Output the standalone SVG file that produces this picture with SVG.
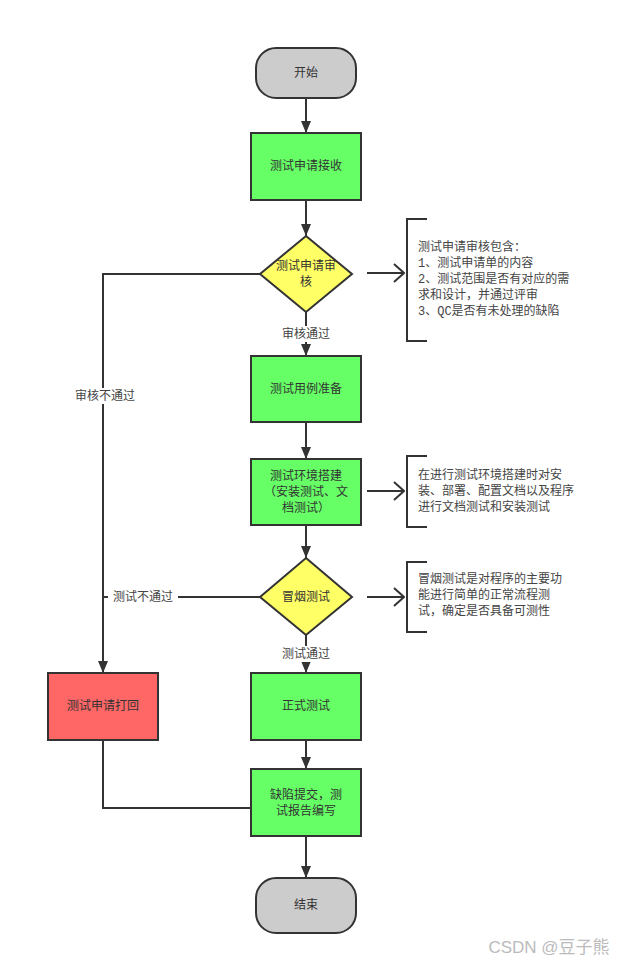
<svg xmlns="http://www.w3.org/2000/svg" width="631" height="965" viewBox="0 0 631 965">
<style>
.n{stroke:#333;stroke-width:2}
.g{fill:#66FF66}
.y{fill:#FFFF66}
.r{fill:#FF6666}
.t{fill:#CCCCCC}
text{font-family:"Liberation Sans","Noto Sans CJK SC",sans-serif;font-size:12px;fill:#333;text-anchor:middle;dominant-baseline:central}
.note{text-anchor:start;font-family:"Liberation Mono","Noto Sans CJK SC",monospace;fill:#444}
.lbl{fill:#444}
.c{fill:none;stroke:#333;stroke-width:2}
</style>
<defs>
<marker id="ah" viewBox="0 0 12 10" refX="12" refY="5" markerWidth="6" markerHeight="5" orient="auto" markerUnits="strokeWidth">
<path d="M0,0 L12,5 L0,10 Z" fill="#333"/>
</marker>
<marker id="oa" viewBox="0 0 12 20" refX="11" refY="10" markerWidth="6" markerHeight="10" orient="auto" markerUnits="strokeWidth">
<path d="M1,1 L11,10 L1,19" fill="none" stroke="#333" stroke-width="2"/>
</marker>
</defs>
<rect width="631" height="965" fill="#fff"/>
<g id="connectors">
<line class="c" x1="306" y1="98" x2="306" y2="133" marker-end="url(#ah)"/>
<line class="c" x1="306" y1="200" x2="306" y2="236" marker-end="url(#ah)"/>
<line class="c" x1="306" y1="312" x2="306" y2="356" marker-end="url(#ah)"/>
<line class="c" x1="306" y1="422" x2="306" y2="459" marker-end="url(#ah)"/>
<line class="c" x1="306" y1="525" x2="306" y2="558" marker-end="url(#ah)"/>
<line class="c" x1="306" y1="635" x2="306" y2="673" marker-end="url(#ah)"/>
<line class="c" x1="306" y1="740" x2="306" y2="769" marker-end="url(#ah)"/>
<line class="c" x1="306" y1="836" x2="306" y2="878" marker-end="url(#ah)"/>
<polyline class="c" points="260,274 103,274 103,673" marker-end="url(#ah)"/>
<line class="c" x1="260" y1="597" x2="103" y2="597"/>
<polyline class="c" points="103,740 103,808 251,808"/>
<line class="c" x1="367" y1="273" x2="404" y2="273" marker-end="url(#oa)"/>
<line class="c" x1="367" y1="491" x2="404" y2="491" marker-end="url(#oa)"/>
<line class="c" x1="367" y1="597" x2="404" y2="597" marker-end="url(#oa)"/>
<rect x="276" y="326" width="60" height="16" fill="#fff"/>
<text class="lbl" x="306" y="334">审核通过</text>
<rect x="276" y="646" width="60" height="16" fill="#fff"/>
<text class="lbl" x="306" y="654">测试通过</text>
<rect x="72" y="388" width="66" height="16" fill="#fff"/>
<text class="lbl" x="105" y="396">审核不通过</text>
<rect x="108" y="589" width="70" height="16" fill="#fff"/>
<text class="lbl" x="143" y="597">测试不通过</text>
</g>
<g id="start">
<rect class="n t" x="256" y="48" width="100" height="50" rx="20"/>
<text x="306" y="73">开始</text>
</g>
<g id="receive">
<rect class="n g" x="251" y="133" width="110" height="67"/>
<text x="306" y="166">测试申请接收</text>
</g>
<g id="review">
<polygon class="n y" points="306,236 352,274 306,312 260,274"/>
<text x="306" y="266">测试申请审</text>
<text x="306" y="282">核</text>
</g>
<g id="cases">
<rect class="n g" x="251" y="356" width="110" height="66"/>
<text x="306" y="389">测试用例准备</text>
</g>
<g id="env">
<rect class="n g" x="251" y="459" width="110" height="66"/>
<text x="306" y="476">测试环境搭建</text>
<text x="306" y="492">（安装测试、文</text>
<text x="306" y="508">档测试）</text>
</g>
<g id="smoke">
<polygon class="n y" points="306,558 352,597 306,635 260,597"/>
<text x="306" y="597">冒烟测试</text>
</g>
<g id="formal">
<rect class="n g" x="251" y="673" width="110" height="67"/>
<text x="306" y="706">正式测试</text>
</g>
<g id="defect">
<rect class="n g" x="251" y="769" width="110" height="67"/>
<text x="306" y="795">缺陷提交，测</text>
<text x="306" y="811">试报告编写</text>
</g>
<g id="end">
<rect class="n t" x="256" y="878" width="100" height="55" rx="20"/>
<text x="306" y="905">结束</text>
</g>
<g id="reject">
<rect class="n r" x="48" y="673" width="110" height="67"/>
<text x="103" y="706">测试申请打回</text>
</g>
<g id="note1">
<polyline class="c" points="427,219 407,219 407,341 427,341"/>
<text class="note" x="418" y="248">测试申请审核包含：</text>
<text class="note" x="418" y="264">1、测试申请单的内容</text>
<text class="note" x="418" y="280">2、测试范围是否有对应的需</text>
<text class="note" x="418" y="296">求和设计，并通过评审</text>
<text class="note" x="418" y="312">3、QC是否有未处理的缺陷</text>
</g>
<g id="note2">
<polyline class="c" points="427,456 407,456 407,527 427,527"/>
<text class="note" x="418" y="476">在进行测试环境搭建时对安</text>
<text class="note" x="418" y="492">装、部署、配置文档以及程序</text>
<text class="note" x="418" y="508">进行文档测试和安装测试</text>
</g>
<g id="note3">
<polyline class="c" points="427,562 407,562 407,632 427,632"/>
<text class="note" x="418" y="580">冒烟测试是对程序的主要功</text>
<text class="note" x="418" y="596">能进行简单的正常流程测</text>
<text class="note" x="418" y="612">试，确定是否具备可测性</text>
</g>
<text x="549" y="947" style="font-size:17px;fill:#bbb">CSDN @豆子熊</text>
</svg>
